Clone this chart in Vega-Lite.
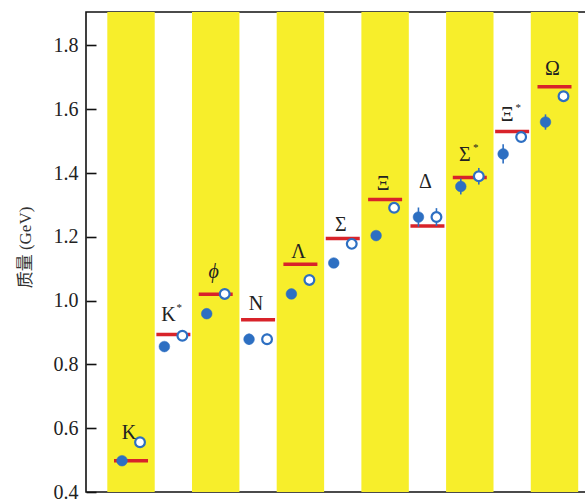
{
  "$schema": "https://vega.github.io/schema/vega-lite/v6.json",
  "autosize": "none",
  "width": 500,
  "height": 480,
  "padding": {"left": 86, "top": 12, "right": 0, "bottom": 9},
  "background": "white",
  "config": {
    "view": {"stroke": "#111", "strokeWidth": 1.6},
    "axis": {"grid": false}
  },
  "datasets": {
    "hadrons": [
      {"name": "K", "star": "", "i": 0, "exp": 0.4976, "f": 0.498, "f_lo": 0.498, "f_hi": 0.498, "o": 0.556, "o_lo": 0.556, "o_hi": 0.556, "label_y": 0.586},
      {"name": "K", "star": "*", "i": 1, "exp": 0.894, "f": 0.856, "f_lo": 0.856, "f_hi": 0.856, "o": 0.890, "o_lo": 0.890, "o_hi": 0.890, "label_y": 0.956},
      {"name": "ϕ", "star": "", "i": 2, "exp": 1.020, "f": 0.959, "f_lo": 0.959, "f_hi": 0.959, "o": 1.021, "o_lo": 1.021, "o_hi": 1.021, "label_y": 1.091},
      {"name": "N", "star": "", "i": 3, "exp": 0.940, "f": 0.879, "f_lo": 0.862, "f_hi": 0.896, "o": 0.879, "o_lo": 0.862, "o_hi": 0.896, "label_y": 0.990},
      {"name": "Λ", "star": "", "i": 4, "exp": 1.114, "f": 1.021, "f_lo": 1.021, "f_hi": 1.021, "o": 1.065, "o_lo": 1.065, "o_hi": 1.065, "label_y": 1.154},
      {"name": "Σ", "star": "", "i": 5, "exp": 1.195, "f": 1.118, "f_lo": 1.118, "f_hi": 1.118, "o": 1.178, "o_lo": 1.178, "o_hi": 1.178, "label_y": 1.238},
      {"name": "Ξ", "star": "", "i": 6, "exp": 1.317, "f": 1.204, "f_lo": 1.204, "f_hi": 1.204, "o": 1.291, "o_lo": 1.291, "o_hi": 1.291, "label_y": 1.367},
      {"name": "Δ", "star": "", "i": 7, "exp": 1.234, "f": 1.262, "f_lo": 1.232, "f_hi": 1.292, "o": 1.262, "o_lo": 1.234, "o_hi": 1.290, "label_y": 1.371},
      {"name": "Σ", "star": "*", "i": 8, "exp": 1.386, "f": 1.358, "f_lo": 1.333, "f_hi": 1.383, "o": 1.390, "o_lo": 1.364, "o_hi": 1.416, "label_y": 1.458},
      {"name": "Ξ", "star": "*", "i": 9, "exp": 1.530, "f": 1.460, "f_lo": 1.430, "f_hi": 1.490, "o": 1.513, "o_lo": 1.513, "o_hi": 1.513, "label_y": 1.583},
      {"name": "Ω", "star": "", "i": 10, "exp": 1.671, "f": 1.560, "f_lo": 1.536, "f_hi": 1.584, "o": 1.641, "o_lo": 1.641, "o_hi": 1.641, "label_y": 1.725}
    ]
  },
  "data": {"name": "hadrons"},
  "encoding": {
    "x": {"field": "i", "type": "quantitative", "scale": {"domain": [-1.063, 10.744], "nice": false, "zero": false}, "axis": null}
  },
  "layer": [
    {
      "transform": [
        {"filter": "datum.i % 2 == 0"},
        {"calculate": "datum.i - 0.56", "as": "x0"},
        {"calculate": "datum.i + 0.56", "as": "x1"}
      ],
      "mark": {"type": "rect", "color": "#f7ee2b"},
      "encoding": {
        "x": {"field": "x0", "type": "quantitative"},
        "x2": {"field": "x1"}
      }
    },
    {
      "mark": {"type": "tick", "orient": "horizontal", "color": "#d8232a", "opacity": 1, "size": 34, "thickness": 3.5},
      "encoding": {
        "y": {"field": "exp", "type": "quantitative",
          "scale": {"domain": [0.4, 1.905], "nice": false, "zero": false},
          "axis": {
            "values": [0.4, 0.6, 0.8, 1.0, 1.2, 1.4, 1.6, 1.8],
            "format": ".1f",
            "domain": false,
            "tickSize": -10,
            "tickColor": "#111",
            "tickWidth": 1.6,
            "labelPadding": 18,
            "labelFont": "Liberation Serif",
            "labelFontSize": 20,
            "labelColor": "#222",
            "title": "质量 (GeV)",
            "titleFont": "Liberation Serif, Noto Sans CJK SC",
            "titleFontSize": 17,
            "titleFontWeight": "normal",
            "titleColor": "#333",
            "titleX": -61,
            "titleY": 235,
            "titleAngle": 270,
            "titleAlign": "center",
            "titleBaseline": "middle"
          }
        }
      }
    },
    {
      "mark": {"type": "rule", "color": "#2d6fc2", "strokeWidth": 1.6, "xOffset": -9},
      "encoding": {
        "y": {"field": "f_lo", "type": "quantitative"},
        "y2": {"field": "f_hi"}
      }
    },
    {
      "mark": {"type": "rule", "color": "#2d6fc2", "strokeWidth": 1.6, "xOffset": 9},
      "encoding": {
        "y": {"field": "o_lo", "type": "quantitative"},
        "y2": {"field": "o_hi"}
      }
    },
    {
      "mark": {"type": "point", "shape": "circle", "filled": true, "fill": "#2d6fc2", "stroke": "#2d6fc2", "strokeWidth": 0.5, "size": 115, "opacity": 1, "xOffset": -9},
      "encoding": {
        "y": {"field": "f", "type": "quantitative"}
      }
    },
    {
      "mark": {"type": "point", "shape": "circle", "filled": false, "fill": "white", "fillOpacity": 1, "stroke": "#2d6fc2", "strokeWidth": 2.2, "size": 95, "opacity": 1, "xOffset": 9},
      "encoding": {
        "y": {"field": "o", "type": "quantitative"}
      }
    },
    {
      "transform": [{"filter": "datum.star == '' && datum.name != 'ϕ'"}],
      "mark": {"type": "text", "font": "Liberation Serif", "fontSize": 20, "color": "#222", "baseline": "middle", "align": "center", "dx": -2},
      "encoding": {
        "y": {"field": "label_y", "type": "quantitative"},
        "text": {"field": "name"}
      }
    },
    {
      "transform": [{"filter": "datum.name == 'ϕ'"}],
      "mark": {"type": "text", "font": "Liberation Serif", "fontSize": 20, "fontStyle": "italic", "color": "#222", "baseline": "middle", "align": "center", "dx": -2},
      "encoding": {
        "y": {"field": "label_y", "type": "quantitative"},
        "text": {"field": "name"}
      }
    },
    {
      "transform": [{"filter": "datum.star != ''"}],
      "mark": {"type": "text", "font": "Liberation Serif", "fontSize": 20, "color": "#222", "baseline": "middle", "align": "center", "dx": -5},
      "encoding": {
        "y": {"field": "label_y", "type": "quantitative"},
        "text": {"field": "name"}
      }
    },
    {
      "transform": [{"filter": "datum.star != ''"}],
      "mark": {"type": "text", "font": "Liberation Serif", "fontSize": 11, "color": "#222", "baseline": "middle", "align": "center", "dx": 6, "dy": -7},
      "encoding": {
        "y": {"field": "label_y", "type": "quantitative"},
        "text": {"field": "star"}
      }
    }
  ]
}
